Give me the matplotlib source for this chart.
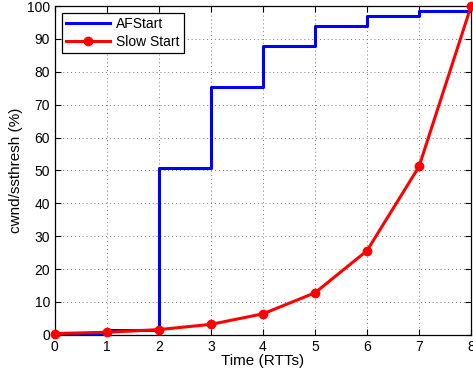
import matplotlib
matplotlib.use("Agg")
import matplotlib.pyplot as plt

rtts = [0, 1, 2, 3, 4, 5, 6, 7, 8]
afstart = [0.4, 1.6, 50.8, 75.4, 87.7, 93.9, 97.0, 98.5, 100.0]
slowstart = [0.4, 0.8, 1.6, 3.2, 6.4, 12.8, 25.6, 51.2, 100.0]

plt.rcParams['font.family'] = ['Liberation Sans', 'DejaVu Sans']
plt.rcParams['font.size'] = 10

fig = plt.figure(figsize=(4.73, 3.75), dpi=100)
ax = fig.add_axes([0.116, 0.107, 0.88, 0.877])

ax.step(rtts, afstart, where='post', color='#0000ff', lw=2.2, label='AFStart')
ax.plot(rtts, slowstart, color='#ff0000', lw=2.2, marker='o', ms=6, label='Slow Start', clip_on=False, zorder=3)

ax.set_xlim(0, 8)
ax.set_ylim(0, 100)
ax.set_xticks(range(0, 9))
ax.set_yticks(range(0, 101, 10))
ax.grid(True, linestyle=(0, (1, 3)), color='#777777', lw=0.7)
ax.tick_params(direction='in', top=True, right=True, length=4, width=0.8, labelsize=10)
for s in ax.spines.values():
    s.set_linewidth(0.9)
ax.set_xlabel('Time (RTTs)', fontsize=11, labelpad=0)
ax.set_ylabel('cwnd/ssthresh (%)', fontsize=11, labelpad=3)

leg = ax.legend(loc='upper left', fancybox=False, edgecolor='black', framealpha=1,
                borderaxespad=0.5, handlelength=3.2, fontsize=10, borderpad=0.3,
                labelspacing=0.3, handletextpad=0.4)
leg.get_frame().set_linewidth(0.9)

fig.savefig('out.png', dpi=100)
